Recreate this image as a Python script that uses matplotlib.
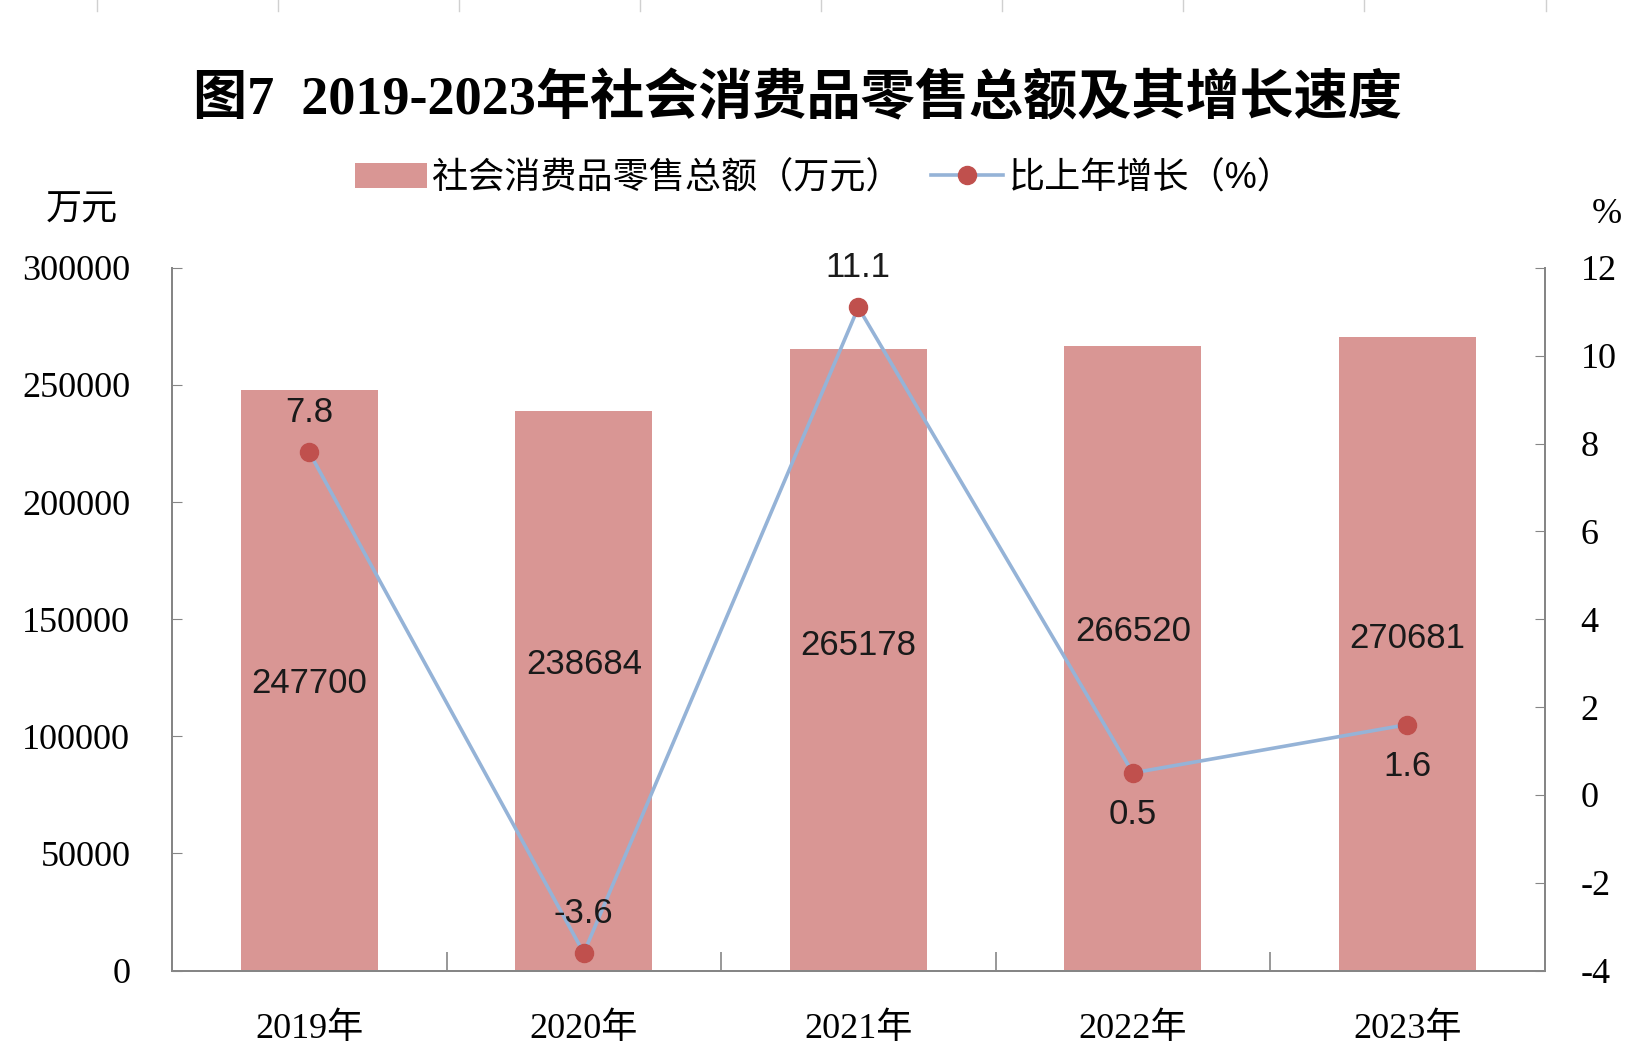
import matplotlib.pyplot as plt
from matplotlib.lines import Line2D
from matplotlib.patches import Patch

# data
years = ["2019年", "2020年", "2021年", "2022年", "2023年"]
retail_total = [247700, 238684, 265178, 266520, 270681]
growth = [7.8, -3.6, 11.1, 0.5, 1.6]
growth_label_above = [True, True, True, False, False]
# where the bar value labels sit (left-axis units), as placed in the original
bar_label_y = [122600, 130600, 138600, 144900, 141700]

bar_color = "#D99694"
line_color = "#95B3D7"
marker_color = "#C0504D"
axis_color = "#868686"

serif_cjk = ["Liberation Serif", "Noto Sans CJK SC"]
sans_cjk = ["Liberation Sans", "Noto Sans CJK SC"]
plt.rcParams["font.family"] = serif_cjk
plt.rcParams["axes.unicode_minus"] = False

fig = plt.figure(figsize=(16.38, 10.63), dpi=100)
ax = fig.add_axes([0.105, 0.087, 0.838, 0.661])
ax2 = ax.twinx()

x = list(range(len(years)))
ax.bar(x, retail_total, width=0.5, color=bar_color, zorder=1)
ax.set_xlim(-0.5, len(years) - 0.5)
ax.set_ylim(0, 300000)
ax.set_yticks(range(0, 300001, 50000))
ax.set_xticks(x)
ax.set_xticklabels(years, fontsize=26, family=serif_cjk)
ax.tick_params(axis="x", length=0, pad=30)
ax.set_xticks([i + 0.5 for i in x[:-1]], minor=True)
ax.tick_params(axis="x", which="minor", direction="in", length=14, color=axis_color, width=1.2)
ax.tick_params(axis="y", direction="in", length=7, color=axis_color, labelsize=26, pad=30)
for lab in ax.get_yticklabels():
    lab.set_family(serif_cjk)

for xi, v, ly in zip(x, retail_total, bar_label_y):
    ax.text(xi, ly, f"{v}", ha="center", va="center", fontsize=25,
            family=sans_cjk, color="#1a1a1a", zorder=5)

ax2.plot(x, growth, color=line_color, lw=2.6, marker="o", markersize=13,
         markerfacecolor=marker_color, markeredgecolor=marker_color, zorder=3)
ax2.set_ylim(-4, 12)
ax2.set_yticks(range(-4, 13, 2))
ax2.tick_params(axis="y", direction="in", length=7, color=axis_color, labelsize=26, pad=26)
for lab in ax2.get_yticklabels():
    lab.set_family(serif_cjk)

for xi, g, above in zip(x, growth, growth_label_above):
    off = 0.9 if above else -0.95
    ax2.text(xi, g + off, f"{g}", ha="center", va="center", fontsize=25,
             family=sans_cjk, color="#1a1a1a", zorder=5)

for a in (ax, ax2):
    a.spines["top"].set_visible(False)
    for s in ("left", "right", "bottom"):
        a.spines[s].set_color(axis_color)
        a.spines[s].set_linewidth(1.4)
ax.set_zorder(ax2.get_zorder() - 1)
ax.patch.set_visible(False)

fig.text(0.487, 0.906, "图7  2019-2023年社会消费品零售总额及其增长速度",
         ha="center", va="center", fontsize=39, fontweight="bold",
         family=["Liberation Serif", "Noto Sans CJK SC"])

handles = [
    Patch(facecolor=bar_color, edgecolor="none"),
    Line2D([], [], color=line_color, lw=2.6, marker="o", markersize=13,
           markerfacecolor=marker_color, markeredgecolor=marker_color),
]
fig.legend(handles, ["社会消费品零售总额（万元）", "比上年增长（%）"],
           loc="center", bbox_to_anchor=(0.503, 0.832), ncol=2, frameon=False,
           prop={"family": sans_cjk, "size": 26}, handlelength=2.0,
           handletextpad=0.15, columnspacing=0.8)

fig.text(0.05, 0.802, "万元", ha="center", va="center", fontsize=26, family=serif_cjk)
fig.text(0.981, 0.798, "%", ha="center", va="center", fontsize=26, family=serif_cjk)

# faint cell-border ticks along the top edge
for fx in [0.059, 0.17, 0.28, 0.391, 0.501, 0.612, 0.722, 0.833, 0.944]:
    fig.add_artist(Line2D([fx, fx], [0.99, 1.0], color="#d0d0d0", lw=1))

fig.savefig("out.png", dpi=100)
